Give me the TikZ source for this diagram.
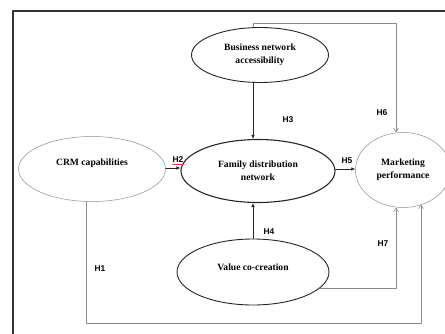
\documentclass[tikz,border=0pt]{standalone}
\usepackage{fontspec}
\setmainfont{Liberation Serif}
\setsansfont{Liberation Sans}
\usetikzlibrary{shapes.geometric,arrows.meta}
\begin{document}
\begin{tikzpicture}[x=1pt, y=-1pt, line cap=round, line join=round]
% Research model: constructs and hypotheses H1--H7
\providecommand{\modelDarkLine}{black!85}
\providecommand{\modelGreyLine}{black!45}
\providecommand{\modelFrameLine}{black!80}
\tikzset{
  construct/.style={ellipse, draw=\modelDarkLine, line width=0.9pt, inner sep=0pt,
    align=center, font=\fontsize{9.6}{13}\selectfont\bfseries},
  lightconstruct/.style={construct, draw=\modelGreyLine, line width=0.5pt},
  hyp/.style={font=\sffamily\bfseries\fontsize{8.4}{10}\selectfont, inner sep=0pt},
  darrow/.style={draw=\modelDarkLine, line width=0.6pt, -{Latex[length=4pt,width=3.5pt]}},
  garrow/.style={draw=\modelGreyLine, line width=0.6pt, -{Straight Barb[length=3.5pt,width=5pt]}}
}
\useasboundingbox (0,0) rectangle (445,333);
% Frame (runs off the right and bottom)
\draw[draw=\modelFrameLine, line width=1.3pt, line cap=butt] (13,340) -- (13,11) -- (450,11);
% Constructs
\node[construct, minimum width=137pt, minimum height=55pt] (bna) at (260,55) {Business network\\accessibility};
\node[lightconstruct, minimum width=147pt, minimum height=65pt] (crm) at (92,169) {CRM capabilities\\[1pt]};
\node[construct, line width=1.1pt, minimum width=154pt, minimum height=63pt] (fdn) at (258,171) {Family distribution\\network};
\node[lightconstruct, minimum width=95pt, minimum height=75pt] (mp) at (403,170) {Marketing\\performance};
\node[construct, minimum width=152pt, minimum height=66pt] (vcc) at (253,272) {Value co-creation\\[-3pt]};
% Direct paths into the family distribution network
\draw[darrow] (bna.south -| vcc.north) -- (fdn.north -| vcc.north);
\draw[darrow] (vcc.north) -- (fdn.south -| vcc.north);
\draw[darrow] (crm.east |- 0,168) -- (fdn.west |- 0,168);
\draw[darrow] (fdn.east |- 0,169) -- (mp.west |- 0,169);
% Paths into marketing performance
\coordinate (h6top) at (396,23);
\coordinate (h1low) at (421,323);
\draw[garrow] (bna.north -| vcc.north) |- (h6top) -- (h6top |- mp.north);
\draw[garrow] (vcc.-14) -| ([xshift=-7pt]mp.south);
\draw[garrow] (crm.-100) |- (h1low) -- ([xshift=18pt,yshift=3pt]mp.south);
% Hypothesis labels
\node[hyp] (h1) at (100,269) {H1};
\node[hyp] (h2) at (178,160) {H2};
\draw[red!80, line width=0.4pt] ([yshift=-1.2pt]h2.south west) -- ([yshift=-1.2pt]h2.south east);
\node[hyp] (h3) at (288,120) {H3};
\node[hyp] (h4) at (269,232) {H4};
\node[hyp] (h5) at (347,161) {H5};
\node[hyp] (h6) at (382,113) {H6};
\node[hyp] (h7) at (383,244) {H7};
\end{tikzpicture}
\end{document}
